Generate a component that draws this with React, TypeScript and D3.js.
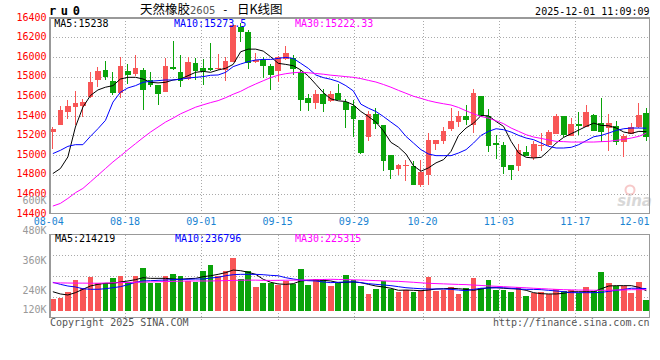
import { useEffect, useRef } from 'react';
import * as d3 from 'd3';

const DATES = [
  '08-04', '08-05', '08-06', '08-07', '08-08', '08-11', '08-12', '08-13', '08-14', '08-15',
  '08-18', '08-19', '08-20', '08-21', '08-22', '08-25', '08-26', '08-27', '08-28', '08-29',
  '09-01', '09-02', '09-03', '09-04', '09-05', '09-08', '09-09', '09-10', '09-11', '09-12',
  '09-15', '09-16', '09-17', '09-18', '09-19', '09-22', '09-23', '09-24', '09-25', '09-26',
  '09-29', '09-30', '10-09', '10-10', '10-13', '10-14', '10-15', '10-16', '10-17', '10-20',
  '10-21', '10-22', '10-23', '10-24', '10-27', '10-28', '10-29', '10-30', '10-31', '11-03',
  '11-04', '11-05', '11-06', '11-07', '11-10', '11-11', '11-12', '11-13', '11-14', '11-17',
  '11-18', '11-19', '11-20', '11-21', '11-24', '11-25', '11-26', '11-27', '11-28', '12-01',
];

const OPEN = [
  15230, 15310, 15435, 15490, 15505, 15590, 15769, 15868, 15752, 15634,
  15855, 15827, 15868, 15762, 15712, 15644, 15898, 15844, 15776, 15936,
  15892, 15892, 15875, 15868, 15953, 16308, 16258, 15949, 15970, 15908,
  15861, 15976, 15993, 15851, 15580, 15529, 15624, 15553, 15637, 15536,
  15502, 15359, 15180, 15420, 15308, 15003, 14858, 14892, 14885, 14698,
  14800, 15115, 15146, 15268, 15332, 15393, 15302, 15603, 15400, 15119,
  15105, 14902, 14885, 15027, 14969, 15098, 15098, 15214, 15393, 15197,
  15319, 15285, 15410, 15325, 15275, 15292, 15129, 15217, 15281, 15427,
];
const CLOSE = [
  15270, 15458, 15495, 15530, 15546, 15749, 15861, 15793, 15634, 15905,
  15814, 15885, 15661, 15717, 15624, 15905, 15878, 15759, 15953, 15861,
  15858, 15871, 15892, 15959, 16325, 16258, 15936, 15970, 15908, 15817,
  15997, 16037, 15878, 15563, 15529, 15620, 15522, 15624, 15563, 15461,
  15369, 15020, 15420, 15315, 14935, 14844, 14902, 14902, 14692, 14824,
  15156, 15156, 15247, 15342, 15393, 15359, 15637, 15393, 15088, 15098,
  14875, 14851, 15054, 14993, 15115, 15105, 15230, 15400, 15207, 15319,
  15292, 15437, 15247, 15234, 15325, 15129, 15197, 15285, 15410, 15180,
];
const HIGH = [
  15290, 15500, 15560, 15650, 15575, 15844, 15902, 15959, 15851, 15997,
  15925, 16020, 15890, 15844, 15715, 15986, 16163, 16020, 16000, 15986,
  15980, 16142, 16027, 15997, 16325, 16353, 16281, 16037, 16003, 15925,
  16010, 16112, 16020, 15868, 15624, 15664, 15675, 15654, 15722, 15573,
  15563, 15359, 15444, 15478, 15308, 15003, 14912, 14946, 14936, 14946,
  15224, 15156, 15288, 15478, 15444, 15512, 15675, 15603, 15471, 15207,
  15129, 14902, 15115, 15095, 15139, 15224, 15251, 15420, 15393, 15376,
  15434, 15512, 15420, 15580, 15417, 15342, 15217, 15325, 15529, 15478,
];
const LOW = [
  15065, 15305, 15370, 15310, 15390, 15585, 15692, 15766, 15614, 15586,
  15725, 15810, 15458, 15698, 15508, 15640, 15870, 15698, 15770, 15766,
  15715, 15858, 15870, 15759, 15950, 16156, 15878, 15940, 15790, 15664,
  15742, 15970, 15817, 15444, 15454, 15471, 15437, 15545, 15560, 15275,
  15180, 15010, 15139, 15264, 14834, 14756, 14793, 14732, 14690, 14671,
  14698, 15054, 15112, 15247, 15281, 15308, 15224, 15390, 15030, 14956,
  14807, 14742, 14834, 14990, 14952, 15037, 15095, 15210, 15183, 15195,
  15200, 15283, 15245, 15132, 15044, 15105, 14976, 15215, 15279, 15146,
];

const MA5 = [
  14810, 14861, 14980, 15285, 15488, 15607, 15664, 15692, 15708, 15776,
  15793, 15793, 15776, 15742, 15736, 15742, 15766, 15776, 15810, 15844,
  15854, 15844, 15868, 15885, 15925, 16054, 16081, 16081, 16061, 16003,
  15936, 15925, 15912, 15868, 15807, 15722, 15637, 15573, 15553, 15546,
  15512, 15444, 15393, 15336, 15247, 15129, 15081, 15010, 14890, 14834,
  14868, 14919, 14952, 15037, 15200, 15275, 15325, 15403, 15400, 15342,
  15291, 15139, 15020, 14976, 14969, 14976, 15044, 15122, 15180, 15217,
  15254, 15292, 15325, 15302, 15298, 15275, 15234, 15220, 15241, 15238,
];
const MA10 = [
  15014, 15047, 15088, 15105, 15105, 15190, 15268, 15353, 15540, 15641,
  15685, 15708, 15742, 15753, 15759, 15766, 15766, 15773, 15786, 15793,
  15800, 15814, 15817, 15844, 15902, 15929, 15953, 15970, 15976, 15976,
  15986, 15997, 15986, 15936, 15885, 15817, 15790, 15773, 15749, 15708,
  15654, 15519, 15478, 15444, 15393, 15336, 15281, 15190, 15122, 15054,
  15010, 14993, 14993, 14993, 15020, 15054, 15122, 15200, 15241, 15268,
  15258, 15234, 15200, 15173, 15156, 15122, 15088, 15071, 15071, 15078,
  15105, 15146, 15186, 15200, 15224, 15251, 15268, 15275, 15275, 15273.5,
];
const MA30 = [
  14478, 14505, 14556, 14614, 14658, 14725, 14793, 14861, 14929, 14990,
  15054, 15115, 15176, 15234, 15285, 15336, 15376, 15420, 15454, 15488,
  15512, 15535, 15555, 15585, 15620, 15650, 15690, 15725, 15758, 15790,
  15815, 15830, 15840, 15845, 15840, 15832, 15825, 15815, 15808, 15800,
  15793, 15780, 15762, 15745, 15720, 15692, 15660, 15630, 15600, 15578,
  15555, 15537, 15523, 15510, 15485, 15451, 15420, 15393, 15376, 15349,
  15319, 15275, 15241, 15207, 15183, 15169, 15153, 15139, 15136, 15132,
  15132, 15132, 15132, 15136, 15139, 15149, 15159, 15173, 15190, 15222.33,
];

const VOLUME = [
  125000, 139000, 203000, 328000, 240000, 364000, 293000, 293000, 353000, 374000,
  310000, 374000, 460000, 293000, 300000, 374000, 396000, 374000, 318000, 310000,
  428000, 489000, 371000, 428000, 567000, 339000, 425000, 257000, 300000, 300000,
  275000, 318000, 282000, 446000, 275000, 336000, 336000, 267000, 293000, 382000,
  328000, 267000, 178000, 232000, 318000, 232000, 203000, 225000, 203000, 214000,
  364000, 214000, 225000, 250000, 178000, 240000, 353000, 240000, 328000, 221000,
  221000, 203000, 257000, 157000, 186000, 203000, 178000, 232000, 210000, 221000,
  193000, 257000, 214000, 417000, 293000, 267000, 267000, 193000, 310000, 114000,
];
const VMA5 = [
  203000, 179000, 168000, 193000, 229000, 264000, 282000, 293000, 293000, 307000,
  318000, 332000, 353000, 346000, 346000, 346000, 339000, 336000, 343000, 346000,
  364000, 374000, 389000, 407000, 435000, 428000, 411000, 389000, 336000, 304000,
  286000, 282000, 289000, 318000, 325000, 328000, 325000, 318000, 300000, 304000,
  307000, 300000, 282000, 264000, 254000, 240000, 218000, 221000, 218000, 214000,
  221000, 232000, 235000, 240000, 235000, 228000, 218000, 232000, 246000, 246000,
  240000, 235000, 232000, 218000, 193000, 182000, 179000, 179000, 186000, 203000,
  203000, 203000, 203000, 235000, 264000, 268000, 268000, 268000, 250000, 214219,
];
const VMA10 = [
  304000, 282000, 264000, 254000, 235000, 229000, 229000, 235000, 246000, 257000,
  278000, 304000, 318000, 321000, 325000, 328000, 332000, 336000, 336000, 339000,
  339000, 350000, 357000, 374000, 385000, 389000, 389000, 389000, 385000, 378000,
  374000, 353000, 339000, 328000, 321000, 318000, 307000, 300000, 304000, 307000,
  310000, 300000, 289000, 282000, 275000, 268000, 257000, 246000, 240000, 235000,
  232000, 232000, 232000, 228000, 221000, 214000, 228000, 240000, 243000, 246000,
  246000, 240000, 232000, 228000, 228000, 225000, 218000, 211000, 203000, 193000,
  193000, 193000, 193000, 196000, 207000, 218000, 228000, 240000, 240000, 236796,
];
const VMA30 = [
  298000, 297000, 296000, 295000, 295000, 294000, 294000, 296000, 298000, 300000,
  302000, 304000, 306000, 308000, 310000, 312000, 314000, 316000, 318000, 318000,
  318000, 318000, 320000, 322000, 324000, 326000, 327000, 327000, 325000, 324000,
  325000, 326000, 327000, 328000, 330000, 332000, 334000, 336000, 334000, 332000,
  330000, 328000, 325000, 322000, 319000, 316000, 314000, 309000, 304000, 298000,
  293000, 290000, 287000, 284000, 281000, 279000, 274000, 270000, 265000, 261000,
  257000, 253000, 249000, 245000, 240000, 236000, 232000, 228000, 225000, 223000,
  221000, 220000, 219000, 218000, 219000, 221000, 222000, 225000, 225000, 225315,
];

const PRICE_TICKS = [16400, 16200, 16000, 15800, 15600, 15400, 15200, 15000, 14800, 14600, 14400];
const VOL_TICKS = [600000, 480000, 360000, 240000, 120000];
const VOL_TICK_LABELS = ['600K', '480K', '360K', '240K', '120K'];
const DATE_TICKS = ['08-04', '08-18', '09-01', '09-15', '09-29', '10-20', '11-03', '11-17', '12-01'];

const RED = '#f85656';
const GREEN = '#0aa30a';
const MONO = "'DejaVu Sans Mono', monospace";

export default function App() {
  const ref = useRef<SVGSVGElement>(null);

  useEffect(() => {
    document.body.style.margin = '0';
    if (!ref.current) return;
    const svg = d3.select(ref.current);
    svg.selectAll('*').remove();

    const left = 50, right = 649.5;
    const pTop = 17.9, pBottom = 213.7;
    const vTop = 234.7, vBottom = 317.7;

    const x = d3.scaleBand<string>().domain(DATES).range([left, right - 0.3]).paddingInner(0.24).paddingOuter(0);
    const bw = x.bandwidth();
    const cx = (d: string) => x(d)! + bw / 2;
    const xTick = d3.scalePoint<string>().domain(DATES).range([48.7, 651.5]);
    const y = d3.scaleLinear().domain([14400, 16400]).range([pBottom, pTop]);
    const yv = d3.scaleLinear().domain([0, 813000]).range([310.7, vTop]);
    const yvLabel = d3.scaleLinear().domain([120000, 600000]).range([324, 204]);

    svg.append('rect').attr('width', 660).attr('height', 360).attr('fill', '#fff');

    const grid = svg.append('g')
      .attr('stroke', '#aaa')
      .attr('stroke-dasharray', '1,2')
      .attr('shape-rendering', 'crispEdges');

    PRICE_TICKS.slice(1, -1).forEach(t => {
      grid.append('line')
        .attr('x1', left).attr('x2', right)
        .attr('y1', Math.round(y(t)) + 0.5).attr('y2', Math.round(y(t)) + 0.5);
    });
    d3.range(1, 4).forEach(k => {
      const yy = Math.round(vTop + (k * (vBottom - vTop)) / 4) + 0.5;
      grid.append('line').attr('x1', left).attr('x2', right).attr('y1', yy).attr('y2', yy);
    });
    DATE_TICKS.slice(1, -1).forEach(d => {
      const xx = Math.round(xTick(d)!) + 0.5;
      grid.append('line').attr('x1', xx).attr('x2', xx).attr('y1', pTop).attr('y2', pBottom + 4);
      grid.append('line').attr('x1', xx).attr('x2', xx).attr('y1', vTop).attr('y2', vBottom + 2);
    });

    // watermark
    const wm = svg.append('g').attr('opacity', 0.45);
    wm.append('circle').attr('cx', 630).attr('cy', 190).attr('r', 4.5)
      .attr('fill', 'none').attr('stroke', '#e88').attr('stroke-width', 2);
    wm.append('text')
      .attr('x', 652).attr('y', 206).attr('text-anchor', 'end')
      .attr('font-family', 'Verdana, DejaVu Sans, sans-serif')
      .attr('font-style', 'italic').attr('font-weight', 'bold')
      .attr('font-size', 15).attr('fill', '#aaa')
      .text('sina');

    // candles
    const candles = svg.append('g').attr('shape-rendering', 'crispEdges');
    DATES.forEach((d, i) => {
      const up = CLOSE[i] >= OPEN[i];
      const color = up ? RED : GREEN;
      const wx = Math.floor(cx(d)) + 0.5;
      candles.append('line')
        .attr('x1', wx).attr('x2', wx)
        .attr('y1', y(HIGH[i])).attr('y2', y(LOW[i]))
        .attr('stroke', color);
      const top = y(Math.max(OPEN[i], CLOSE[i]));
      const h = Math.max(1, Math.abs(y(OPEN[i]) - y(CLOSE[i])));
      candles.append('rect')
        .attr('x', x(d)!).attr('width', bw)
        .attr('y', top).attr('height', h)
        .attr('fill', color);

      const vy = yv(VOLUME[i]);
      candles.append('rect')
        .attr('x', x(d)!).attr('width', bw)
        .attr('y', vy).attr('height', yv(0) - vy)
        .attr('fill', color);
    });

    const priceLine = (vals: number[]) =>
      d3.line<number>().x((_, i) => cx(DATES[i])).y(v => y(v))(vals);
    const volLine = (vals: number[]) =>
      d3.line<number>().x((_, i) => cx(DATES[i])).y(v => yv(v))(vals);

    [[MA5, '#000'], [MA10, '#0000ff'], [MA30, '#ff00ff']].forEach(([vals, c]) => {
      svg.append('path').attr('d', priceLine(vals as number[])!)
        .attr('fill', 'none').attr('stroke', c as string).attr('stroke-width', 1);
    });
    [[VMA5, '#000'], [VMA10, '#0000ff'], [VMA30, '#ff00ff']].forEach(([vals, c]) => {
      svg.append('path').attr('d', volLine(vals as number[])!)
        .attr('fill', 'none').attr('stroke', c as string).attr('stroke-width', 1);
    });

    // borders
    const border = svg.append('g').attr('fill', 'none').attr('stroke', '#999')
      .attr('stroke-width', 1.5).attr('shape-rendering', 'crispEdges');
    border.append('rect').attr('x', left).attr('y', pTop).attr('width', right - left).attr('height', pBottom - pTop);
    border.append('rect').attr('x', left).attr('y', vTop).attr('width', right - left).attr('height', vBottom - vTop);

    // axis labels
    const txt = svg.append('g').attr('font-family', MONO).attr('font-size', 10);
    PRICE_TICKS.forEach(t => {
      txt.append('text').attr('x', 46.5).attr('y', y(t) + 2.8)
        .attr('text-anchor', 'end').attr('fill', '#ff0000').text(t);
    });
    VOL_TICKS.forEach((t, i) => {
      txt.append('text').attr('x', 46.5).attr('y', Math.min(yvLabel(t), 313.4))
        .attr('text-anchor', 'end').attr('fill', '#999').text(VOL_TICK_LABELS[i]);
    });
    DATE_TICKS.forEach(d => {
      txt.append('text').attr('x', Math.min(xTick(d)!, right - 15)).attr('y', 225.3)
        .attr('text-anchor', 'middle').attr('fill', '#1a84d2').text(d);
    });

    // legends
    const legend = (yy: number, items: [string, string, number][]) => {
      items.forEach(([label, c, xx]) => {
        txt.append('text').attr('x', xx).attr('y', yy).attr('fill', c).text(label);
      });
    };
    legend(27.3, [
      [`MA5:${MA5[MA5.length - 1]}`, '#000', 54.3],
      [`MA10:${MA10[MA10.length - 1]}`, '#0000ff', 174],
      [`MA30:${MA30[MA30.length - 1]}`, '#ff00ff', 295],
    ]);
    legend(241.7, [
      [`MA5:${VMA5[VMA5.length - 1]}`, '#000', 55],
      [`MA10:${VMA10[VMA10.length - 1]}`, '#0000ff', 175],
      [`MA30:${VMA30[VMA30.length - 1]}`, '#ff00ff', 295],
    ]);

    // header
    svg.append('text').attr('x', 49).attr('y', 15)
      .attr('font-family', MONO).attr('font-weight', 'bold').attr('font-size', 12)
      .attr('letter-spacing', 4.6).attr('fill', '#000').text('ru0');
    const cjk = "'Noto Sans CJK SC', sans-serif";
    svg.append('text').attr('x', 140).attr('y', 14)
      .attr('font-family', cjk).attr('font-size', 12.5).attr('fill', '#000').text('天然橡胶');
    svg.append('text').attr('x', 190).attr('y', 14)
      .attr('font-family', "'DejaVu Sans', sans-serif").attr('font-size', 10).attr('fill', '#555').text('2605');
    svg.append('text').attr('x', 222).attr('y', 13)
      .attr('font-family', MONO).attr('font-size', 11).attr('fill', '#000').text('-');
    svg.append('text').attr('x', 237).attr('y', 14)
      .attr('font-family', cjk).attr('font-size', 12.5).attr('fill', '#000').text('日K线图');
    txt.append('text').attr('x', right).attr('y', 15)
      .attr('text-anchor', 'end').attr('fill', '#000').text('2025-12-01 11:09:09');

    // footer
    txt.append('text').attr('x', 50).attr('y', 326).attr('fill', '#555').text('Copyright 2025 SINA.COM');
    txt.append('text').attr('x', right).attr('y', 326).attr('text-anchor', 'end')
      .attr('fill', '#555').text('http://finance.sina.com.cn');
  }, []);

  return <svg ref={ref} width={660} height={360} style={{ display: 'block' }} />;
}
